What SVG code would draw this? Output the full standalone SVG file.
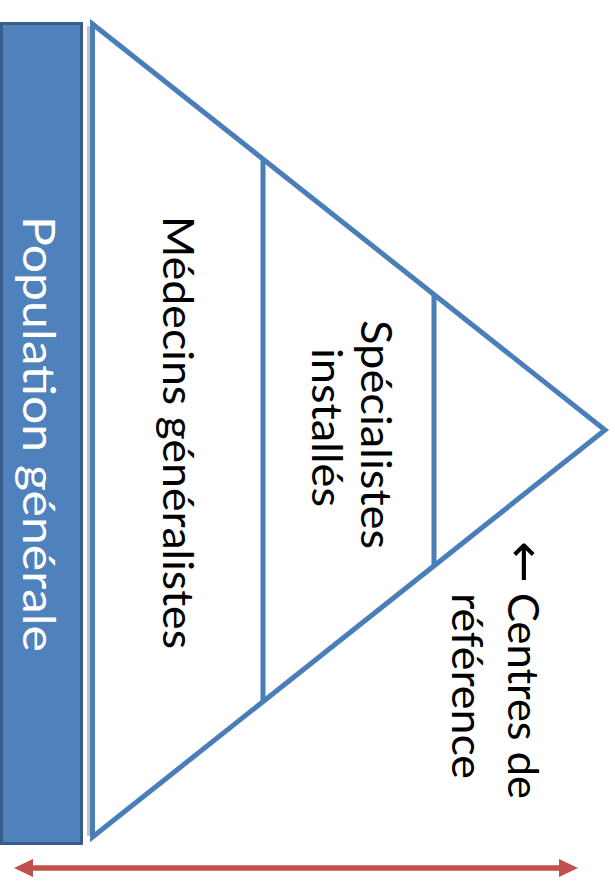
<svg xmlns="http://www.w3.org/2000/svg" width="615" height="887" viewBox="0 0 615 887">
<style>
  .lbl { font-family: Lato, "Open Sans", "Liberation Sans", sans-serif; font-size: 43px; fill: #000; }
  .pop { font-family: Lato, "Open Sans", "Liberation Sans", sans-serif; font-size: 45px; fill: #fff; }
  .arr { font-family: "DejaVu Sans", sans-serif; font-size: 50px; }
  .tri { fill: #fff; stroke: #4A7EBB; stroke-width: 5; stroke-linejoin: miter; }
  .div { stroke: #4A7EBB; stroke-width: 5; fill: none; }
</style>
<defs>
  <marker id="head" markerUnits="userSpaceOnUse" markerWidth="20" markerHeight="20" refX="0" refY="9" orient="auto-start-reverse" overflow="visible">
    <path d="M0,0 L19,9 L0,18 z" fill="#C0504D"/>
  </marker>
</defs>
<rect width="615" height="887" fill="#fff"/>

<g id="population">
  <rect x="1.5" y="23.5" width="80" height="820" fill="#4F81BD" stroke="#385D8A" stroke-width="3"/>
  <text class="pop" transform="translate(23,0) rotate(90)" x="216" y="0" textLength="436" lengthAdjust="spacingAndGlyphs">Population générale</text>
</g>

<g id="pyramid">
  <line x1="88.5" y1="26" x2="88.5" y2="836" stroke="#C4C4C4" stroke-width="3"/>
  <polygon class="tri" points="92.5,24 605,430 92.5,837"/>
</g>

<g id="medecins">
  <text class="lbl" transform="translate(163,0) rotate(90)" x="216" y="0" textLength="433" lengthAdjust="spacingAndGlyphs">Médecins généralistes</text>
</g>

<g id="specialistes">
  <line class="div" x1="263" y1="159" x2="263" y2="701.5"/>
  <text class="lbl" transform="translate(361,0) rotate(90)" x="320" y="0" textLength="229" lengthAdjust="spacingAndGlyphs">Spécialistes</text>
  <text class="lbl" transform="translate(312,0) rotate(90)" x="348" y="0" textLength="159" lengthAdjust="spacingAndGlyphs">installés</text>
</g>

<g id="centres">
  <line class="div" x1="434" y1="294.5" x2="434" y2="565.5"/>
  <text class="lbl" transform="translate(508,0) rotate(90)"><tspan class="arr" x="541">←</tspan><tspan x="593" textLength="206" lengthAdjust="spacingAndGlyphs">Centres de</tspan></text>
  <text class="lbl" transform="translate(452,0) rotate(90)" x="593" y="0" textLength="186" lengthAdjust="spacingAndGlyphs">référence</text>
</g>

<g id="connectors">
  <line x1="33" y1="868" x2="559" y2="868" stroke="#C0504D" stroke-width="5.5" marker-start="url(#head)" marker-end="url(#head)"/>
</g>
</svg>
